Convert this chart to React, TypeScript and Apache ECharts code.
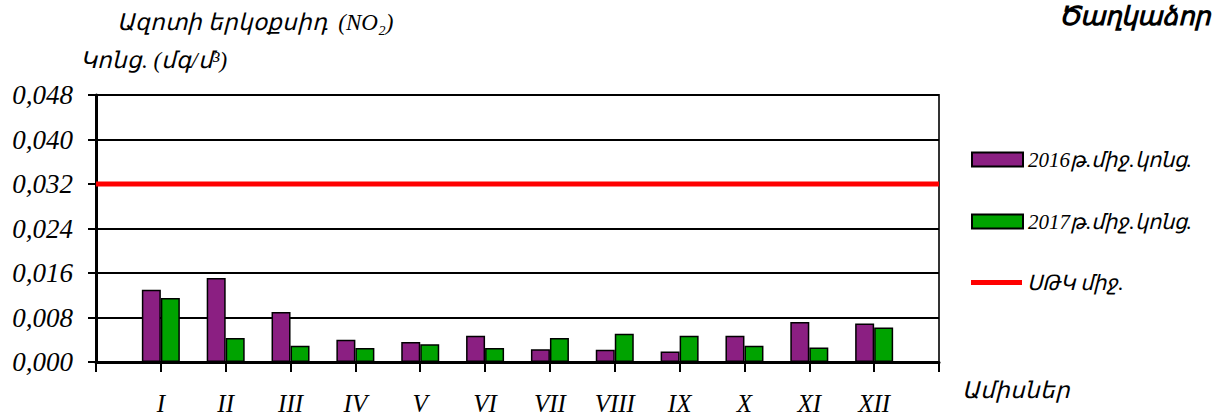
import React, { useEffect, useRef } from "react";
import * as echarts from "echarts";

const months = ["", "I", "II", "III", "IV", "V", "VI", "VII", "VIII", "IX", "X", "XI", "XII", ""];
const avg2016 = [null, 0.013, 0.0151, 0.009, 0.004, 0.0036, 0.0047, 0.0023, 0.0022, 0.0019, 0.0047, 0.0072, 0.0069, null];
const avg2017 = [null, 0.0115, 0.0043, 0.0029, 0.0025, 0.0032, 0.0025, 0.0043, 0.0051, 0.0047, 0.0029, 0.0026, 0.0062, null];
const limitValue = 0.032;
const limitLine = months.map(() => limitValue);
const seriesNames = ["2016թ.միջ.կոնց.", "2017թ.միջ.կոնց.", "ՍԹԿ միջ."];

const FONT = "serif";

export default function App() {
  const ref = useRef<HTMLDivElement>(null);
  useEffect(() => {
    const chart = echarts.init(ref.current!, null, { renderer: "svg" });
    const legendText = { fontFamily: FONT, fontStyle: "italic", fontSize: 21, color: "#000" };
    chart.setOption({
      animation: false,
      backgroundColor: "#fff",
      grid: {
        left: 96,
        right: 278,
        top: 95,
        bottom: 55,
        show: true,
        borderColor: "#333",
        borderWidth: 2,
        backgroundColor: "transparent",
      },
      legend: seriesNames.map((n, i) => ({
        data: [n],
        left: 966,
        top: [144, 206, 267][i],
        itemWidth: 51,
        itemHeight: i < 2 ? 14 : 5,
        itemGap: 7,
        textStyle: legendText,
        icon: "rect",
        selectedMode: false,
      })),
      xAxis: {
        type: "category",
        data: months,
        boundaryGap: false,
        axisLine: { lineStyle: { color: "#000", width: 3 } },
        axisTick: { show: true, length: 10, lineStyle: { color: "#000", width: 2 }, alignWithLabel: true },
        axisLabel: {
          interval: 0,
          margin: 29,
          fontFamily: FONT,
          fontStyle: "italic",
          fontSize: 25,
          color: "#000",
        },
        splitLine: { show: false },
      },
      yAxis: {
        type: "value",
        min: 0,
        max: 0.048,
        interval: 0.008,
        axisLine: { show: true, lineStyle: { color: "#000", width: 3 } },
        axisTick: { show: true, length: 8, lineStyle: { color: "#000", width: 2 } },
        axisLabel: {
          margin: 23,
          fontFamily: FONT,
          fontStyle: "italic",
          fontSize: 27,
          color: "#000",
          formatter: (v: number) => v.toFixed(3).replace(".", ","),
        },
        splitLine: { show: true, lineStyle: { color: "#000", width: 2 } },
      },
      series: [
        {
          name: seriesNames[0],
          type: "bar",
          data: avg2016,
          barWidth: 19,
          barGap: "0%",
          itemStyle: { color: "#8B1F82", borderColor: "#000", borderWidth: 1.5 },
        },
        {
          name: seriesNames[1],
          type: "bar",
          data: avg2017,
          barWidth: 19,
          barGap: "0%",
          itemStyle: { color: "#00A300", borderColor: "#000", borderWidth: 1.5 },
        },
        {
          name: seriesNames[2],
          type: "line",
          data: limitLine,
          symbol: "none",
          lineStyle: { color: "#FF0000", width: 5 },
          itemStyle: { color: "#FF0000" },
          z: 5,
        },
      ],
      graphic: [
        {
          type: "text",
          left: 117,
          top: 11,
          style: { text: "Ազոտի երկօքսիդ  (NO₂)", fontFamily: FONT, fontStyle: "italic", fontSize: 23, fill: "#000" },
        },
        {
          type: "text",
          left: 80,
          top: 49,
          style: { text: "Կոնց. (մգ/մ³)", fontFamily: FONT, fontStyle: "italic", fontSize: 23, fill: "#000" },
        },
        {
          type: "text",
          right: 7,
          top: 3,
          style: { text: "Ծաղկաձոր", fontFamily: FONT, fontStyle: "italic", fontWeight: "bold", fontSize: 26, fill: "#000" },
        },
        {
          type: "text",
          left: 962,
          top: 379,
          style: { text: "Ամիսներ", fontFamily: FONT, fontStyle: "italic", fontSize: 23, fill: "#000" },
        },
      ],
    });
    return () => chart.dispose();
  }, []);
  return <div ref={ref} style={{ width: 1217, height: 417, position: "absolute", left: 0, top: 0 }} />;
}
